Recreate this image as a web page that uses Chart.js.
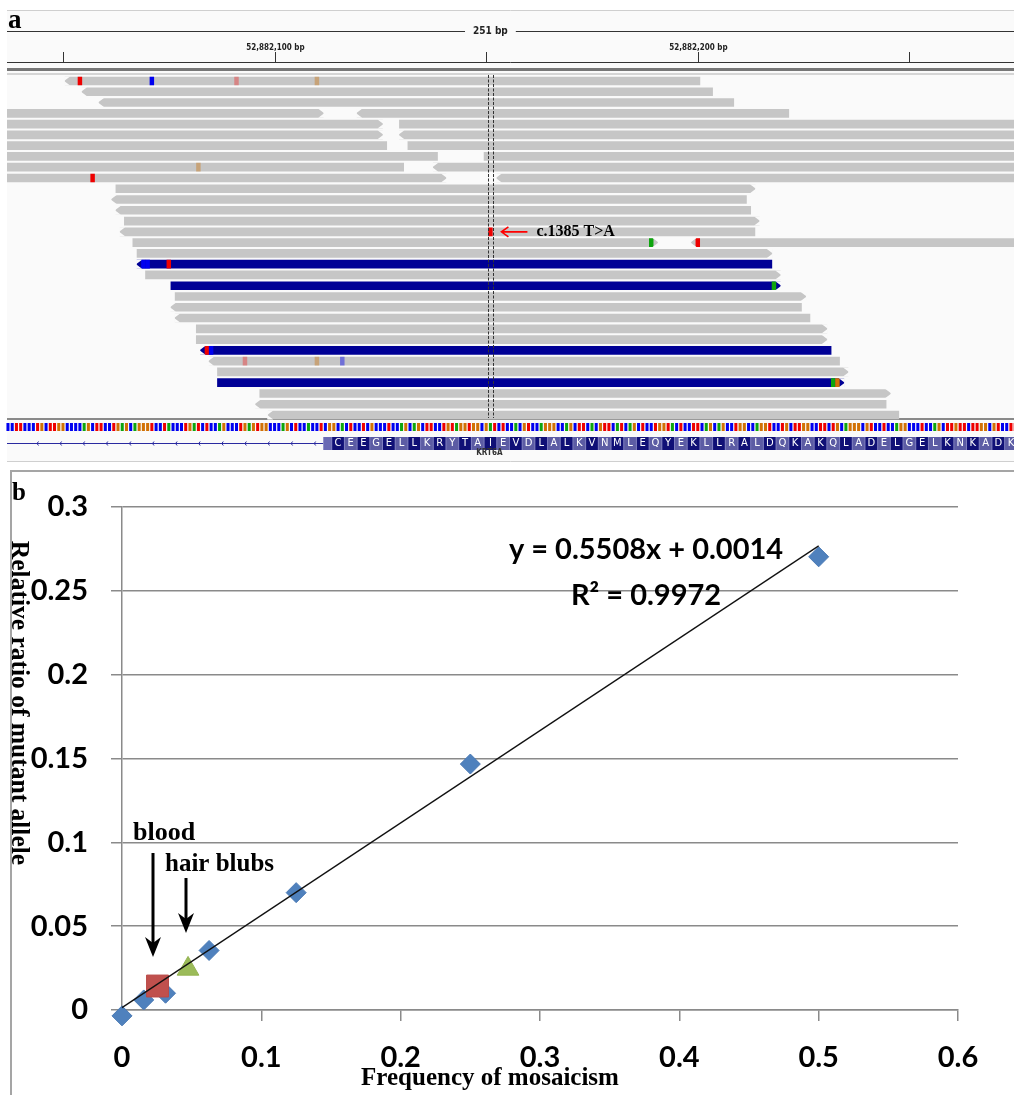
<!DOCTYPE html>
<html><head><meta charset="utf-8">
<script src="https://cdn.jsdelivr.net/npm/chart.js@4/dist/chart.umd.min.js"></script>
<style>
html,body{margin:0;padding:0;background:#fff;width:1014px;height:1095px;overflow:hidden}
#a{position:absolute;left:0;top:0}
#b{position:absolute;left:0;top:465px}
</style></head><body>
<canvas id="a" width="1014" height="465"></canvas>
<canvas id="b" width="1014" height="630"></canvas>
<script>
// ================= Panel a : IGV read pile-up (positions are offsets from REGION_START) =================
const REGION_START = 52882050;
const VIEW_FROM = -13.23, VIEW_TO = 224.72;
const RULER_TICKS = [0, 50, 100, 150, 200];
const RULER_LABELS = {50: '52,882,100 bp', 150: '52,882,200 bp'};
const WINDOW_LABEL = '251 bp';
const CENTER_BASE = 101;
const ROW_COUNT = 32;
// [row, start, end, strand]
const GREY_READS = [
  [1,1,150,'-'],[2,5,153,'-'],[3,9,158,'-'],
  [4,-88,61,'+'],[4,70,171,'-'],
  [5,-74,75,'+'],[5,80,229,'+'],
  [6,-74,75,'+'],[6,80,229,'-'],
  [7,-73,76,'-'],[7,82,231,'+'],
  [8,-61,88,'-'],[8,100,249,'+'],
  [9,-69,80,'-'],[9,88,237,'-'],
  [10,-59,90,'+'],[10,103,252,'-'],
  [11,13,163,'+'],[12,12,161,'-'],[13,13,162,'-'],[14,15,164,'+'],[15,14,163,'-'],
  [16,17,140,'+'],[16,149,298,'-'],
  [17,18,167,'+'],[19,20,169,'+'],[21,27,175,'+'],[22,26,174,'-'],[23,27,176,'-'],
  [24,32,180,'+'],[25,32,180,'+'],[27,35,183,'-'],[28,37,185,'+'],
  [30,47,195,'+'],[31,46,194,'-'],[32,49,197,'-']
];
const BLUE_READS = [
  [18,18,167,'-'],[20,26,169,'+'],[26,33,181,'-'],[29,37,184,'+']
];
// [row, position, base, faded]
const MISMATCHES = [
  [1,4,'T',0],[1,21,'C',0],[1,41,'T',1],[1,60,'G',1],
  [9,32,'G',1],[10,7,'T',0],
  [15,101,'T',0],
  [16,139,'A',0],[16,150,'T',0],
  [18,19,'C',0],[18,20,'C',0],[18,25,'T',0],
  [20,168,'A',0],
  [26,34,'T',0],[26,35,'C',0],
  [27,43,'T',1],[27,60,'G',1],[27,66,'C',1],
  [29,182,'A',0],[29,183,'G',0]
];
const REF_INTRON_FROM = -13;
const REF_INTRON = 'CCTTCCCTGCTTGGCCCCAGCTTCCTGAGCAGGGTCCTACCCTGATCTCCAGCCCTGAGTGGCCCAGCTCCACCT';
const EXON_PARTIAL_FROM = 62;
const EXON_PARTIAL = 'CG';
const EXON_CODON_FROM = 64;
const PLUS_CODONS = ['GCA','CTC','CTC','GCC','CTC','CAG','CAG','CTT','CCT','GTA','GGT','GGC','GAT','CTC','CAC','GTC','CAG','GGC','CAG','CTT','CAC','GTT','CAT','CAG','CTC','CTG','GTA','CTC','CTT','CAG','CAG','CCT','GGC','CAG','GTC','CTG','CTT','GGC','CTT','CTG','CAG','GGC','GTC','CTC','CAG','GCC','CTC','CAG','CTT','GTT','CTT','GGC','GTC','CTT'];
const AMINO_ACIDS = 'CEEGELLKRYTAIEVDLALKVNMLEQYEKLLRALDQKAKQLADELGELKNKADK'.split('');
const GENE_NAME = 'KRT6A';
const MUTATION_LABEL = 'c.1385 T>A';
const MUTATION_ROW = 15;

const BASE_COLORS = {A:'#0ea50e', C:'#0000f0', G:'#d17105', T:'#ee0000'};
const FADED_COLORS = {A:'rgba(20,170,20,0.45)', C:'rgba(40,40,230,0.55)', G:'rgba(200,140,70,0.6)', T:'rgba(225,90,90,0.6)'};
const PANEL_BG = '#fafafa';
const ROW_LABELS = [];
for (let i = 1; i <= ROW_COUNT; i++) ROW_LABELS.push('r' + i);

const toBar = r => ({x:[r[1]-0.5, r[2]+0.5], y:'r'+r[0]});

const igvPlugin = {
  id:'igv',
  beforeDraw(chart){
    const ctx = chart.ctx, xs = chart.scales.x;
    const X = v => xs.getPixelForValue(v);
    const bp = X(1) - X(0);
    ctx.save();
    ctx.fillStyle = PANEL_BG; ctx.fillRect(7,10,1007,452);
    ctx.strokeStyle = '#cfcfcf'; ctx.lineWidth = 1;
    ctx.beginPath(); ctx.moveTo(7,10.5); ctx.lineTo(1014,10.5); ctx.stroke();
    ctx.beginPath(); ctx.moveTo(7,461.5); ctx.lineTo(1014,461.5); ctx.stroke();
    // panel letter
    ctx.fillStyle='#000'; ctx.font='bold 27px "Liberation Serif"'; ctx.textAlign='left'; ctx.textBaseline='alphabetic';
    ctx.fillText('a',8,28);
    // window line
    const cx = X(CENTER_BASE);
    ctx.font='bold 10px "DejaVu Sans Condensed","DejaVu Sans"'; ctx.textAlign='center'; ctx.textBaseline='middle';
    ctx.fillStyle='#222'; ctx.fillText(WINDOW_LABEL, cx, 31);
    const half = ctx.measureText(WINDOW_LABEL).width/2 + 8;
    ctx.strokeStyle='#333'; ctx.lineWidth=1;
    ctx.beginPath(); ctx.moveTo(7,31.5); ctx.lineTo(cx-half,31.5); ctx.moveTo(cx+half,31.5); ctx.lineTo(1014,31.5); ctx.stroke();
    // ruler
    ctx.font='bold 8px "DejaVu Sans Condensed","DejaVu Sans"'; ctx.fillStyle='#222';
    ctx.beginPath();
    RULER_TICKS.forEach(t => {
      const x = Math.round(X(t)) + 0.5;
      ctx.moveTo(x,52); ctx.lineTo(x,62);
      if (RULER_LABELS[t]) ctx.fillText(RULER_LABELS[t], x, 47.5);
    });
    ctx.moveTo(7,62.5); ctx.lineTo(1014,62.5);
    ctx.stroke();
    ctx.fillStyle='#777'; ctx.fillRect(7,68,1007,3);
    ctx.fillStyle='#b0b0b0'; ctx.fillRect(7,73.5,1007,1);
    // separator above sequence
    ctx.fillStyle='#8a8a8a'; ctx.fillRect(7,418,1007,2);
    // reference sequence strip
    const drawBase = (b, pos) => {
      const l = X(pos-0.5);
      ctx.fillStyle = BASE_COLORS[b];
      ctx.fillRect(l+0.6, 423, bp-1.2, 8);
    };
    REF_INTRON.split('').forEach((b,i) => drawBase(b, REF_INTRON_FROM+i));
    EXON_PARTIAL.split('').forEach((b,i) => drawBase(b, EXON_PARTIAL_FROM+i));
    PLUS_CODONS.join('').split('').forEach((b,i) => drawBase(b, EXON_CODON_FROM+i));
    // gene track: intron line with chevrons
    const exonLeft = X(EXON_PARTIAL_FROM-0.5);
    ctx.strokeStyle='#2a2aa0'; ctx.lineWidth=1;
    ctx.beginPath(); ctx.moveTo(7,443.5); ctx.lineTo(exonLeft,443.5);
    for (let x = 37; x < exonLeft-4; x += 23.1) { ctx.moveTo(x+1.5,441.5); ctx.lineTo(x,443.5); ctx.lineTo(x+1.5,445.5); }
    ctx.stroke();
    // exon
    ctx.fillStyle='#8080c0'; ctx.fillRect(exonLeft,437,1014-exonLeft,13);
    ctx.fillStyle='#6a6ab4'; ctx.fillRect(exonLeft+0.5,437,X(EXON_CODON_FROM-0.5)-exonLeft-1,13);
    ctx.font='10px "DejaVu Sans"'; ctx.textAlign='center'; ctx.textBaseline='middle';
    AMINO_ACIDS.forEach((aa,k) => {
      const l = X(EXON_CODON_FROM-0.5+3*k), r = X(EXON_CODON_FROM+2.5+3*k);
      ctx.fillStyle = k%2 ? 'rgb(92,92,164)' : 'rgb(16,16,118)';
      ctx.fillRect(l+0.5,437,r-l-1,13);
      ctx.fillStyle='#fff'; ctx.fillText(aa,(l+r)/2,443.8);
    });
    ctx.font='bold 8px "DejaVu Sans Condensed","DejaVu Sans"'; ctx.fillStyle='#333';
    ctx.fillText(GENE_NAME, cx-1, 453);
    ctx.restore();
  },
  afterDatasetsDraw(chart){
    const ctx = chart.ctx, xs = chart.scales.x;
    const X = v => xs.getPixelForValue(v);
    ctx.save();
    // arrow tips on reads
    const tip = (reads, dsIndex) => {
      const meta = chart.getDatasetMeta(dsIndex);
      reads.forEach((r,i) => {
        const el = meta.data[i];
        const top = el.y - el.height/2, bot = el.y + el.height/2, mid = el.y;
        const lo = Math.min(el.x, el.base), hi = Math.max(el.x, el.base);
        ctx.fillStyle = PANEL_BG;
        ctx.beginPath();
        if (r[3] === '+') {
          ctx.moveTo(hi-5,top-0.5); ctx.lineTo(hi+1,top-0.5); ctx.lineTo(hi+1,mid); ctx.closePath();
          ctx.moveTo(hi-5,bot+0.5); ctx.lineTo(hi+1,bot+0.5); ctx.lineTo(hi+1,mid); ctx.closePath();
        } else {
          ctx.moveTo(lo+5,top-0.5); ctx.lineTo(lo-1,top-0.5); ctx.lineTo(lo-1,mid); ctx.closePath();
          ctx.moveTo(lo+5,bot+0.5); ctx.lineTo(lo-1,bot+0.5); ctx.lineTo(lo-1,mid); ctx.closePath();
        }
        ctx.fill();
      });
    };
    tip(GREY_READS, 0); tip(BLUE_READS, 1);
    // centre lines
    ctx.strokeStyle='#333'; ctx.lineWidth=1; ctx.setLineDash([3,1.5]);
    ctx.beginPath();
    [CENTER_BASE-0.5, CENTER_BASE+0.5].forEach(p => { const x = Math.round(X(p))+0.5; ctx.moveTo(x,75); ctx.lineTo(x,418); });
    ctx.stroke(); ctx.setLineDash([]);
    // mutation annotation
    const y = chart.scales.y.getPixelForValue(MUTATION_ROW-1);
    const x0 = X(CENTER_BASE+2.6);
    ctx.strokeStyle='#ff0000'; ctx.lineWidth=1.6;
    ctx.beginPath(); ctx.moveTo(x0,y); ctx.lineTo(x0+26,y);
    ctx.moveTo(x0+7,y-5); ctx.lineTo(x0,y); ctx.lineTo(x0+7,y+5); ctx.stroke();
    ctx.fillStyle='#000'; ctx.font='bold 16px "Liberation Serif"'; ctx.textAlign='left'; ctx.textBaseline='middle';
    ctx.fillText(MUTATION_LABEL, x0+35, y+0.5);
    ctx.restore();
  }
};

new Chart(document.getElementById('a'), {
  type:'bar',
  data:{
    labels: ROW_LABELS,
    datasets:[
      {data: GREY_READS.map(toBar), backgroundColor:'#c6c6c6', grouped:false, barThickness:8, borderWidth:0, order:3},
      {data: BLUE_READS.map(toBar), backgroundColor:'#000096', grouped:false, barThickness:8, borderWidth:0, order:2},
      {data: MISMATCHES.map(m => ({x:[m[1]-0.45, m[1]+0.45], y:'r'+m[0]})),
       backgroundColor: MISMATCHES.map(m => m[3] ? FADED_COLORS[m[2]] : BASE_COLORS[m[2]]),
       grouped:false, barThickness:8, borderWidth:0, order:1}
    ]
  },
  options:{
    indexAxis:'y', responsive:false, animation:false, devicePixelRatio:1,
    layout:{padding:{left:7,right:0,top:75.6,bottom:44.6}},
    scales:{
      x:{type:'linear', min:VIEW_FROM, max:VIEW_TO, display:false},
      y:{type:'category', display:false, offset:true}
    },
    plugins:{legend:{display:false}, tooltip:{enabled:false}}
  },
  plugins:[igvPlugin]
});

// ================= Panel b : scatter with trend line =================
const FREQ = [0, 0.0156, 0.03125, 0.0625, 0.125, 0.25, 0.5];
const RATIO = [-0.0035, 0.006, 0.010, 0.0355, 0.070, 0.1467, 0.2703];
const BLOOD = [0.0255, 0.0143];
const HAIR = [0.0474, 0.0245];
const TREND_X = [0, 0.5];
const TREND_Y = [0.0014, 0.2768];
const X_MIN = 0, X_MAX = 0.6, X_STEP = 0.1;
const Y_MIN = 0, Y_MAX = 0.3, Y_STEP = 0.05;
const X_TITLE = 'Frequency of mosaicism';
const Y_TITLE = 'Relative ratio of mutant allele';
const EQUATION = 'y = 0.5508x + 0.0014';
const R_SQUARED = 'R\u00B2 = 0.9972';
const BLOOD_LABEL = 'blood';
const HAIR_LABEL = 'hair blubs';

const GRID = '#8a8a8a';
const TICK_FONT = {family:'Lato', size:29, weight:'bold'};
const fmt = v => String(+(+v).toFixed(3));

const arrowDown = (ctx, x, y1, y2) => {
  ctx.strokeStyle='#000'; ctx.fillStyle='#000'; ctx.lineWidth=3;
  ctx.beginPath(); ctx.moveTo(x,y1); ctx.lineTo(x,y2-14); ctx.stroke();
  ctx.beginPath(); ctx.moveTo(x-8,y2-20); ctx.lineTo(x,y2); ctx.lineTo(x+8,y2-20); ctx.lineTo(x,y2-14); ctx.closePath(); ctx.fill();
};

const excelPlugin = {
  id:'excel',
  beforeDraw(chart){
    const ctx = chart.ctx;
    ctx.save();
    ctx.fillStyle='#fff'; ctx.fillRect(0,0,1014,630);
    ctx.strokeStyle='#a5a5a5'; ctx.lineWidth=2;
    ctx.beginPath(); ctx.moveTo(11,630); ctx.lineTo(11,6); ctx.lineTo(1014,6); ctx.stroke();
    ctx.restore();
  },
  afterDraw(chart){
    const ctx = chart.ctx;
    ctx.save();
    ctx.fillStyle='#000'; ctx.textBaseline='alphabetic';
    ctx.font='bold 25px "Liberation Serif"'; ctx.textAlign='left';
    ctx.fillText('b', 12, 35);
    // axis titles
    ctx.font='bold 25px "Liberation Serif"'; ctx.textAlign='center';
    ctx.fillText(X_TITLE, 490, 620);
    ctx.save(); ctx.translate(19, 238); ctx.rotate(Math.PI/2);
    ctx.textBaseline='middle'; ctx.font='bold 25.5px "Liberation Serif"'; ctx.fillText(Y_TITLE, 0, 0); ctx.restore();
    // trend line equation
    ctx.font='bold 29px Lato'; ctx.textAlign='center';
    ctx.fillText(EQUATION, 646, 94);
    ctx.fillText(R_SQUARED, 646, 140);
    // annotations
    ctx.textAlign='left';
    ctx.font='bold 26px "Liberation Serif"';
    ctx.fillText(BLOOD_LABEL, 133, 375);
    ctx.font='bold 25px "Liberation Serif"';
    ctx.fillText(HAIR_LABEL, 165, 406);
    arrowDown(ctx, 153, 388, 492);
    arrowDown(ctx, 186, 413, 468);
    ctx.restore();
  }
};

new Chart(document.getElementById('b'), {
  type:'scatter',
  data:{
    datasets:[
      {data: TREND_X.map((x,i)=>({x, y:TREND_Y[i]})), showLine:true, borderColor:'#111', borderWidth:1.3, pointRadius:0, order:0, clip:false},
      {data: FREQ.map((x,i)=>({x, y:RATIO[i]})), pointStyle:'rectRot', pointRadius:10, backgroundColor:'#4f81bd', borderColor:'#4a7ab5', borderWidth:1, order:2, clip:false},
      {data: [{x:BLOOD[0], y:BLOOD[1]}], pointStyle:'rect', pointRadius:15.5, backgroundColor:'#c0504d', borderColor:'#b94a47', borderWidth:1, order:1, clip:false},
      {data: [{x:HAIR[0], y:HAIR[1]}], pointStyle:'triangle', pointRadius:12.5, backgroundColor:'#9bbb59', borderColor:'#93b350', borderWidth:1, order:1, clip:false}
    ]
  },
  options:{
    responsive:false, animation:false, devicePixelRatio:1,
    layout:{padding:{left:0, top:42, right:56, bottom:0}},
    scales:{
      x:{type:'linear', min:X_MIN, max:X_MAX,
         ticks:{stepSize:X_STEP, font:TICK_FONT, color:'#000', padding:19, maxRotation:0, callback:fmt},
         grid:{drawOnChartArea:false, drawTicks:true, tickLength:11, color:GRID, lineWidth:1.5},
         border:{display:true, color:GRID, width:1.5},
         afterFit(s){ s.height = 85; }},
      y:{type:'linear', min:Y_MIN, max:Y_MAX,
         ticks:{stepSize:Y_STEP, font:TICK_FONT, color:'#000', padding:23, callback:fmt},
         grid:{drawOnChartArea:true, drawTicks:true, tickLength:11, color:GRID, lineWidth:1.5},
         border:{display:true, color:GRID, width:1.5},
         afterFit(s){ s.width = 122; }}
    },
    plugins:{legend:{display:false}, tooltip:{enabled:false}}
  },
  plugins:[excelPlugin]
});
</script>
</body></html>
